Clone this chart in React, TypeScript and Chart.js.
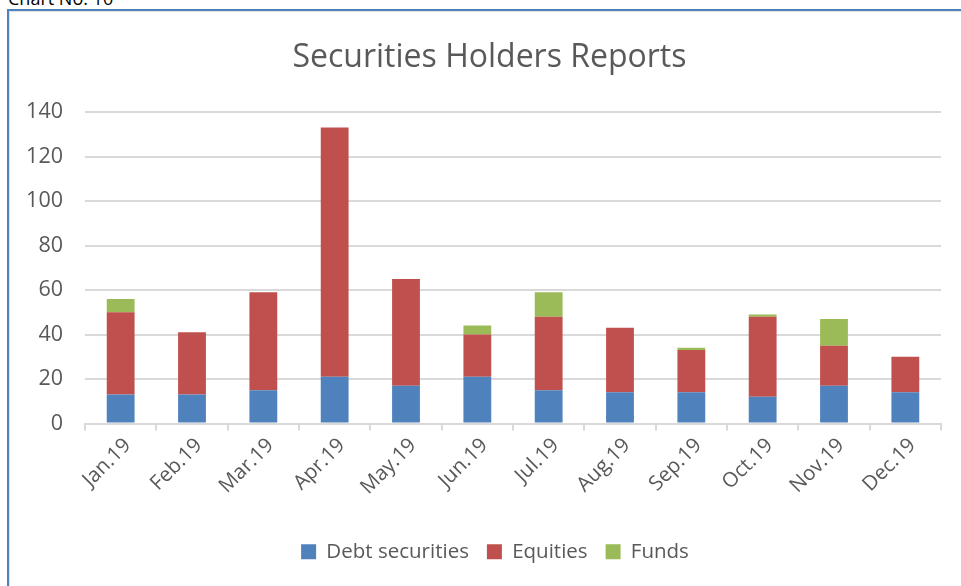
import React, { useEffect, useRef } from "react";
import { Chart, registerables } from "chart.js";

Chart.register(...registerables);

const months = ["Jan.19", "Feb.19", "Mar.19", "Apr.19", "May.19", "Jun.19", "Jul.19", "Aug.19", "Sep.19", "Oct.19", "Nov.19", "Dec.19"];
const debtSecurities = [13, 13, 15, 21, 17, 21, 15, 14, 14, 12, 17, 14];
const equities = [37, 28, 44, 112, 48, 19, 33, 29, 19, 36, 18, 16];
const funds = [6, 0, 0, 0, 0, 4, 11, 0, 1, 1, 12, 0];
const yTicks = [0, 20, 40, 60, 80, 100, 120, 140];

const FONT = "'Open Sans', 'Noto Sans', sans-serif";
const GRAY_TEXT = "#595959";
const GRID = "#d9d9d9";

const shiftBlocks = {
  id: "shiftBlocks",
  afterLayout(chart: any) {
    if (chart.titleBlock) chart.titleBlock.left = 38;
    if (chart.legend) chart.legend.left = 49;
  },
};

export default function App() {
  const ref = useRef<HTMLCanvasElement | null>(null);

  useEffect(() => {
    if (!ref.current) return;
    const chart = new Chart(ref.current, {
      type: "bar",
      data: {
        labels: months,
        datasets: [
          { label: "Debt securities", data: debtSecurities, backgroundColor: "#4f81bd" },
          { label: "Equities", data: equities, backgroundColor: "#c0504d" },
          { label: "Funds", data: funds, backgroundColor: "#9bbb59" },
        ],
      },
      plugins: [shiftBlocks],
      options: {
        animation: false,
        responsive: false,
        maintainAspectRatio: false,
        datasets: { bar: { categoryPercentage: 1, barPercentage: 0.39 } },
        layout: { padding: { left: 0, right: 20, top: 0, bottom: 14 } },
        plugins: {
          title: {
            display: true,
            text: "Securities Holders Reports",
            color: GRAY_TEXT,
            font: { family: FONT, size: 32, weight: "normal" },
            padding: { top: 39, bottom: 34.6 },
          },
          legend: {
            position: "bottom",
            labels: {
              color: GRAY_TEXT,
              font: { family: FONT, size: 20.5 },
              boxWidth: 15,
              boxHeight: 15,
              padding: 18,
            },
          },
          tooltip: { enabled: false },
        },
        scales: {
          x: {
            stacked: true,
            offset: true,
            grid: { display: true, drawOnChartArea: false, drawTicks: true, tickLength: 7, color: GRID, lineWidth: 2, offset: true },
            border: { display: true, color: GRID, width: 2 },
            ticks: {
              color: GRAY_TEXT,
              font: { family: FONT, size: 20.5 },
              minRotation: 45,
              maxRotation: 45,
              padding: 3,
              labelOffset: 7,
            },
            afterFit: (s: any) => { s.height = 100; },
          },
          y: {
            stacked: true,
            min: 0,
            max: 140,
            afterBuildTicks: (s: any) => { s.ticks = yTicks.map((v) => ({ value: v })); },
            grid: { color: GRID, lineWidth: 2, drawTicks: false },
            border: { display: false },
            ticks: {
              color: GRAY_TEXT,
              font: { family: FONT, size: 21.5 },
              padding: 22,
            },
            afterFit: (s: any) => { s.width = 85; },
          },
        },
      },
    });
    return () => chart.destroy();
  }, []);

  return (
    <div style={{ position: "fixed", left: 0, top: 0, width: 961, height: 586, overflow: "hidden", background: "#fff" }}>
      <div style={{ position: "absolute", left: 8, top: -14, fontFamily: FONT, fontSize: 18, color: "#000" }}>Chart No. 10</div>
      <div
        style={{
          position: "absolute",
          left: 7,
          top: 9,
          width: 1200,
          height: 1200,
          borderLeft: "2px solid #4f81bd",
          borderTop: "2px solid #4f81bd",
          boxShadow: "inset 1px 1px 0 #e3e3e3",
        }}
      />
      <canvas ref={ref} width={961} height={586} style={{ position: "absolute", left: 0, top: 0 }} />
    </div>
  );
}
